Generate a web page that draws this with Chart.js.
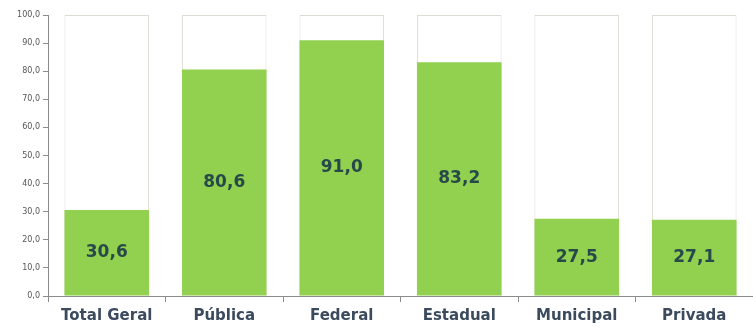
<!DOCTYPE html>
<html>
<head>
    <meta charset="UTF-8">
    <title>Percentual por rede</title>
    <script src="https://cdn.jsdelivr.net/npm/chart.js"></script>
    <style>
        html, body {
            margin: 0;
            padding: 0;
            background-color: #fff;
        }

        .container {
            width: 753px;
            height: 329px;
        }
    </style>
</head>
<body>
    <div class="container">
        <canvas id="myChart" width="753" height="329"></canvas>
    </div>
    <script>
        // Data
        const categories = ['Total Geral', 'Pública', 'Federal', 'Estadual', 'Municipal', 'Privada'];
        const percentages = [30.6, 80.6, 91.0, 83.2, 27.5, 27.1];
        const fullScale = [100, 100, 100, 100, 100, 100];

        const formatComma = v => v.toFixed(1).replace('.', ',');

        // value labels in the middle of each green bar
        const centerLabels = {
            id: 'centerLabels',
            afterDatasetsDraw(chart) {
                const ctx = chart.ctx;
                const meta = chart.getDatasetMeta(0);
                ctx.save();
                ctx.font = 'bold 17px "DejaVu Sans", sans-serif';
                ctx.fillStyle = '#27494a';
                ctx.textAlign = 'center';
                ctx.textBaseline = 'middle';
                meta.data.forEach((bar, i) => {
                    ctx.fillText(formatComma(percentages[i]), bar.x, (bar.y + bar.base) / 2);
                });
                ctx.restore();
            }
        };

        const ctx = document.getElementById('myChart').getContext('2d');
        const myChart = new Chart(ctx, {
            type: 'bar',
            data: {
                labels: categories,
                datasets: [{
                    label: 'Percentual',
                    data: percentages,
                    backgroundColor: '#92d050',
                    borderWidth: 0,
                    grouped: false,
                    barPercentage: 0.72,
                    categoryPercentage: 1
                },
                {
                    label: 'Total',
                    data: fullScale,
                    backgroundColor: '#ffffff',
                    borderColor: '#dcdcd4',
                    borderWidth: 1,
                    grouped: false,
                    barPercentage: 0.72,
                    categoryPercentage: 1
                }]
            },
            options: {
                responsive: false,
                animation: false,
                layout: {
                    padding: { top: 15, right: 0, bottom: 0, left: 0 }
                },
                plugins: {
                    legend: { display: false },
                    tooltip: { enabled: false }
                },
                scales: {
                    x: {
                        grid: {
                            drawOnChartArea: false,
                            color: '#8c8c8c',
                            tickLength: 6
                        },
                        border: { color: '#8c8c8c', width: 1 },
                        ticks: {
                            color: '#3c4a5e',
                            font: { family: '"DejaVu Sans", sans-serif', size: 15, weight: 'bold' },
                            padding: 5
                        },
                        afterFit(scale) { scale.height = 33; }
                    },
                    y: {
                        min: 0,
                        max: 100,
                        grid: {
                            drawOnChartArea: false,
                            color: '#8c8c8c',
                            tickLength: 5
                        },
                        border: { color: '#8c8c8c', width: 1 },
                        ticks: {
                            stepSize: 10,
                            color: '#555',
                            font: { family: '"DejaVu Sans", sans-serif', size: 8 },
                            padding: 3,
                            callback: v => formatComma(v)
                        },
                        afterFit(scale) { scale.width = 48; }
                    }
                }
            },
            plugins: [centerLabels]
        });
    </script>
</body>
</html>
